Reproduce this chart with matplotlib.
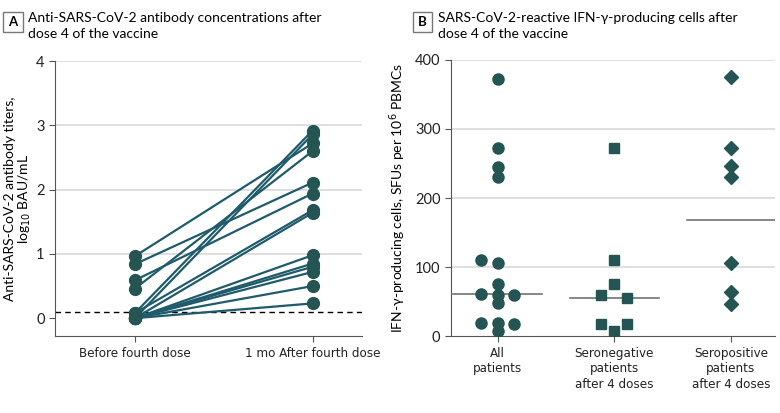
import numpy as np
import matplotlib.pyplot as plt
from matplotlib.patches import Rectangle

# Panel A: antibody titers (log10 BAU/mL), before and 1 mo after dose 4
before = [0.965, 0.84, 0.59, 0.46, 0.08, 0.0, 0.08, 0.0, 0.0, 0.0, 0.0, 0.0, 0.0, 0.0]
after = [2.72, 2.11, 1.94, 2.60, 2.92, 2.86, 1.68, 1.64, 0.98, 0.85, 0.80, 0.72, 0.50, 0.23]
timepoints = ["Before fourth dose", "1 mo After fourth dose"]
threshold = 0.1

# Panel B: IFN-gamma SFUs per 10^6 PBMCs
groups = ["All\npatients", "Seronegative\npatients\nafter 4 doses", "Seropositive\npatients\nafter 4 doses"]
all_vals = [372, 272, 245, 230, 110, 106, 76, 61, 59, 59, 48, 19, 19, 17, 8]
all_jit = [0, 0, 0, 0, -1, 0, 0, -1, 0, 1, 0, -1, 0, 1, 0]
neg_vals = [272, 110, 76, 60, 55, 17, 17, 8]
neg_jit = [0, 0, 0, -1, 1, -1, 1, 0]
pos_vals = [375, 272, 247, 230, 106, 64, 47]
medians = [61, 55, 168]

line_c = "#1f5b6b"
dot_c = "#245552"
grid_c = "#d9d9d9"
spine_c = "#555555"

plt.rcParams["font.family"] = ["Lato", "DejaVu Sans"]
fig = plt.figure(figsize=(7.8, 4.13), dpi=100)

# ---- Panel A
ax1 = fig.add_axes([0.0705, 0.186, 0.394, 0.666])
for b, a in zip(before, after):
    ax1.plot([0, 1], [b, a], color=line_c, lw=1.6, zorder=3)
ax1.plot(np.zeros(len(before)), before, "o", color=dot_c, ms=8.5, zorder=4)
ax1.plot(np.ones(len(after)), after, "o", color=dot_c, ms=8.5, zorder=4)
ax1.axhline(threshold, color="black", lw=1, ls=(0, (4, 3)), zorder=2)
ax1.set_xlim(-0.45, 1.28)
ax1.set_ylim(-0.28, 4)
ax1.set_yticks([0, 1, 2, 3, 4])
ax1.set_xticks([0, 1])
ax1.set_xticklabels(timepoints)
for y in [1, 2, 3, 4]:
    ax1.axhline(y, color=grid_c, lw=1.2, zorder=1)
ax1.set_ylabel("Anti-SARS-CoV-2 antibody titers,\nlog$_{10}$ BAU/mL", fontsize=10, labelpad=2,
               linespacing=1.1)

# ---- Panel B
ax2 = fig.add_axes([0.578, 0.186, 0.416, 0.669])
jw = 0.14
ax2.plot(np.array(all_jit) * jw, all_vals, "o", color=dot_c, ms=8, zorder=4)
ax2.plot(1 + np.array(neg_jit) * jw * 0.8, neg_vals, "s", color=dot_c, ms=7.5, zorder=4)
ax2.plot(np.full(len(pos_vals), 2), pos_vals, "D", color=dot_c, ms=7, zorder=4)
for i, m in enumerate(medians):
    ax2.plot([i - 0.38, i + 0.38], [m, m], color="#666666", lw=1.1, zorder=3)
ax2.set_xlim(-0.4, 2.38)
ax2.set_ylim(0, 400)
ax2.set_yticks([0, 100, 200, 300, 400])
ax2.set_xticks([0, 1, 2])
ax2.set_xticklabels(groups, linespacing=1.25)
for y in [100, 200, 300, 400]:
    ax2.axhline(y, color=grid_c, lw=1.2, zorder=1)
ax2.set_ylabel("IFN-\u03b3-producing cells, SFUs per 10$^6$ PBMCs", fontsize=10, labelpad=5)

for ax in (ax1, ax2):
    for s in ["top", "right"]:
        ax.spines[s].set_visible(False)
    for s in ["left", "bottom"]:
        ax.spines[s].set_color(spine_c)
    ax.tick_params(colors=spine_c, labelcolor="#222222", labelsize=10.5, length=4)
    for lab in ax.get_xticklabels():
        lab.set_family(["DejaVu Sans"])
        lab.set_stretch("condensed")
        lab.set_fontsize(9.5)

# panel headers
for x0, letter, text in [(0.004, "A", "Anti-SARS-CoV-2 antibody concentrations after\ndose 4 of the vaccine"),
                         (0.529, "B", "SARS-CoV-2-reactive IFN-\u03b3-producing cells after\ndose 4 of the vaccine")]:
    fig.patches.append(Rectangle((x0, 0.923), 0.025, 0.048, transform=fig.transFigure,
                                 fill=False, edgecolor="#777777", lw=1))
    fig.text(x0 + 0.0125, 0.947, letter, ha="center", va="center", fontsize=9.5, fontweight="bold")
    fig.text(x0 + 0.032, 0.97, text, ha="left", va="top", fontsize=10, linespacing=1.4)

fig.savefig("out.png", dpi=100)
